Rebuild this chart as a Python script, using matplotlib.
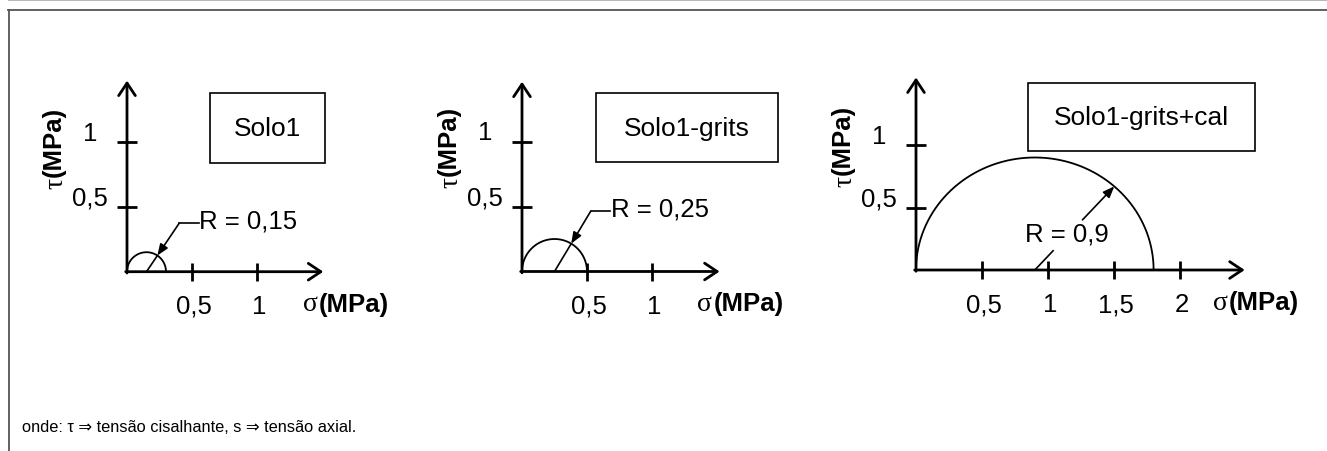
import numpy as np
import matplotlib
matplotlib.use("Agg")
import matplotlib.pyplot as plt
from matplotlib.patches import Rectangle
from matplotlib.lines import Line2D

plt.rcParams['font.family'] = ['Liberation Sans', 'DejaVu Sans']

W, H = 1327, 452

# dados dos circulos de Mohr (centro = raio, tocam a origem)
amostras = ['Solo1', 'Solo1-grits', 'Solo1-grits+cal']
raios = [0.15, 0.25, 0.9]
rotulos_r = ['R = 0,15', 'R = 0,25', 'R = 0,9']
ticks_sigma = [[0.5, 1], [0.5, 1], [0.5, 1, 1.5, 2]]
labels_sigma = [['0,5', '1'], ['0,5', '1'], ['0,5', '1', '1,5', '2']]
ticks_tau = [0.5, 1]
labels_tau = ['0,5', '1']

# layout de cada painel: origem em pixels, escala (px por MPa)
origem = [(127, 272.7), (522, 272.5), (916, 271)]
escala = [(130, 130), (130, 130), (132, 125)]
fim_eixo = [(1.51, 1.47), (1.52, 1.46), (2.49, 1.54)]
caixa = [(0.64, 0.84, 0.88, 0.535), (0.57, 0.84, 1.40, 0.535), (0.85, 0.95, 1.72, 0.55)]
pos_sigma = [1.35, 1.35, 2.25]
ang_r = [56, 59, 48]

fig = plt.figure(figsize=(W / 100, H / 100), dpi=100)

# moldura
fig.add_artist(Line2D([9 / W, 1], [1 - 0.6 / H, 1 - 0.6 / H], color='#aaaaaa', lw=1.2))
fig.add_artist(Line2D([8 / W, 1], [1 - 11 / H, 1 - 11 / H], color='#555555', lw=1.3))
fig.add_artist(Line2D([9 / W, 9 / W], [1 - 11 / H, 0], color='#555555', lw=1.3))

fs = 18.5
for i in range(3):
    x0, y0 = origem[i]
    sx, sy = escala[i]
    ax = fig.add_axes([0, 0, 1, 1])
    ax.set_xlim(-x0 / sx, (W - x0) / sx)
    ax.set_ylim(-(H - y0) / sy, y0 / sy)
    ax.axis('off')
    ax.patch.set_alpha(0)

    xe, ye = fim_eixo[i]
    seta = dict(arrowstyle='->,head_length=0.45,head_width=0.3', lw=2, color='black',
                mutation_scale=20, shrinkA=0, shrinkB=0)
    ax.annotate('', xy=(xe, 0), xytext=(-0.01, 0), arrowprops=seta)
    ax.annotate('', xy=(0, ye), xytext=(0, -0.01), arrowprops=seta)

    # ticks
    ax.plot(ticks_sigma[i], [0] * len(ticks_sigma[i]), ls='none', marker='|',
            ms=12.5, mew=2, color='black')
    ax.plot([0] * len(ticks_tau), ticks_tau, ls='none', marker='_',
            ms=14, mew=2, color='black')
    for t, lab in zip(ticks_sigma[i], labels_sigma[i]):
        ax.annotate(lab, (t, 0), xytext=(2, -34), textcoords='offset pixels',
                    ha='center', va='center', fontsize=fs)
    for t, lab in zip(ticks_tau, labels_tau):
        ax.annotate(lab, (0, t), xytext=(-37, 9), textcoords='offset pixels',
                    ha='center', va='center', fontsize=fs)

    # rotulos dos eixos
    ax.annotate('σ', (pos_sigma[i], 0), xytext=(0, -32), textcoords='offset pixels',
                ha='left', va='center', fontsize=20, family='Liberation Serif')
    ax.annotate('(MPa)', (pos_sigma[i], 0), xytext=(16, -32), textcoords='offset pixels',
                ha='left', va='center', fontsize=fs, fontweight='bold')
    ax.annotate('τ', (0, 0), xytext=(-71, 84), textcoords='offset pixels', rotation=90,
                ha='center', va='bottom', fontsize=20, family='Liberation Serif')
    ax.annotate('(MPa)', (0, 0), xytext=(-73, 96), textcoords='offset pixels', rotation=90,
                ha='center', va='bottom', fontsize=fs, fontweight='bold')

    # caixa com o nome da amostra
    bx, by, bw, bh = caixa[i]
    ax.add_patch(Rectangle((bx, by), bw, bh, fill=False, lw=1.2, ec='black'))
    ax.text(bx + bw / 2, by + bh / 2, amostras[i], ha='center', va='center', fontsize=19)

    # semicirculo de Mohr
    r = raios[i]
    th = np.linspace(0, np.pi, 300)
    ax.plot(r + r * np.cos(th), r * np.sin(th), color='black', lw=1.3)

    a = np.radians(ang_r[i])
    px, py = r + r * np.cos(a), r * np.sin(a)
    ponta = dict(arrowstyle='-|>,head_length=0.45,head_width=0.18', lw=1.2, color='black',
                 mutation_scale=15, shrinkA=0, shrinkB=0)
    if i < 2:
        ax.plot([r, px], [0, py], color='black', lw=1.2)
        d = 0.45 if i == 0 else 0.54
        bxr, byr = r + d * np.cos(a), d * np.sin(a)
        ax.annotate('', xy=(px, py), xytext=(bxr, byr), arrowprops=ponta)
        ax.plot([bxr, bxr + 0.15], [byr, byr], color='black', lw=1.2)
        ax.text(bxr + 0.155, byr + 0.02, rotulos_r[i], ha='left', va='center', fontsize=fs)
    else:
        ax.plot([r, r + 0.23 * r * np.cos(a)], [0, 0.23 * r * np.sin(a)], color='black', lw=1.2)
        ax.annotate('', xy=(px, py), xytext=(r + 0.6 * r * np.cos(a), 0.6 * r * np.sin(a)),
                    arrowprops=ponta)
        ax.text(1.14, 0.29, rotulos_r[i], ha='center', va='center', fontsize=fs)

fig.text(22 / W, 1 - 428 / H, 'onde: τ ⇒ tensão cisalhante, s ⇒ tensão axial.',
         ha='left', va='center', fontsize=11.8)

fig.savefig('out.png', dpi=100)
